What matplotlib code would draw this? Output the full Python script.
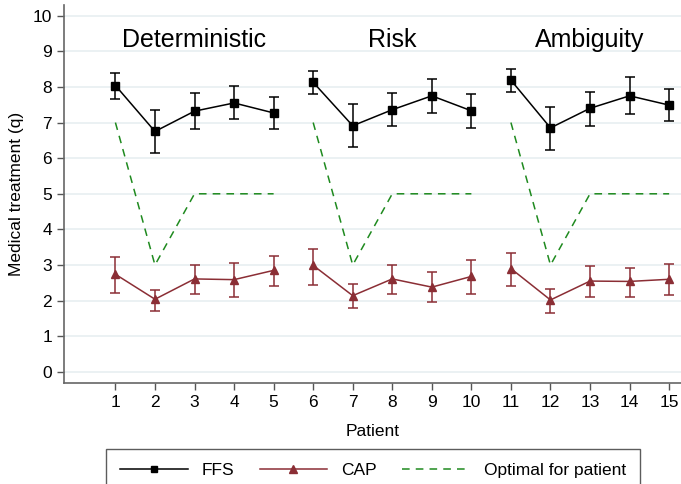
import numpy as np
import matplotlib
matplotlib.use('Agg')
import matplotlib.pyplot as plt
from matplotlib.lines import Line2D

plt.rcParams['font.family'] = ['Liberation Sans', 'DejaVu Sans']

patients = list(range(1, 16))
groups = ['Deterministic', 'Risk', 'Ambiguity']

ffs_mean = [8.04, 6.75, 7.32, 7.55, 7.27,
            8.13, 6.91, 7.36, 7.75, 7.33,
            8.19, 6.85, 7.40, 7.75, 7.49]
ffs_hi = [8.38, 7.35, 7.82, 8.04, 7.73,
          8.46, 7.51, 7.84, 8.22, 7.81,
          8.51, 7.45, 7.87, 8.27, 7.95]
ffs_lo = [7.67, 6.15, 6.83, 7.09, 6.81,
          7.79, 6.31, 6.89, 7.26, 6.86,
          7.87, 6.24, 6.91, 7.25, 7.03]

cap_mean = [2.74, 2.04, 2.61, 2.59, 2.85,
            2.99, 2.14, 2.61, 2.38, 2.68,
            2.90, 2.02, 2.55, 2.54, 2.60]
cap_hi = [3.22, 2.30, 3.01, 3.07, 3.26,
          3.46, 2.47, 3.00, 2.80, 3.14,
          3.35, 2.32, 2.98, 2.93, 3.03]
cap_lo = [2.21, 1.72, 2.18, 2.10, 2.42,
          2.45, 1.79, 2.19, 1.95, 2.18,
          2.40, 1.65, 2.09, 2.11, 2.17]

optimal = [7, 3, 5, 5, 5,
           7, 3, 5, 5, 5,
           7, 3, 5, 5, 5]

ffs_color = 'black'
cap_color = '#8b2e35'
opt_color = '#1f8a1f'
opt_dash = (0, (5, 4))

fig = plt.figure(figsize=(6.81, 4.84), dpi=100)
ax = fig.add_axes([64 / 681, 1 - 383.3 / 484, 1 - 64 / 681, (383.3 - 5) / 484])

x = np.array(patients)
ffs_mean = np.array(ffs_mean)
cap_mean = np.array(cap_mean)

for g in range(3):
    s = slice(g * 5, g * 5 + 5)
    xs = x[s]
    ax.errorbar(xs, ffs_mean[s],
                yerr=[ffs_mean[s] - np.array(ffs_lo[s]), np.array(ffs_hi[s]) - ffs_mean[s]],
                color=ffs_color, marker='s', markersize=5.5, lw=1.1, elinewidth=1.1,
                capsize=3.5, capthick=1.1, zorder=3)
    ax.errorbar(xs, cap_mean[s],
                yerr=[cap_mean[s] - np.array(cap_lo[s]), np.array(cap_hi[s]) - cap_mean[s]],
                color=cap_color, marker='^', markersize=6, lw=1.1, elinewidth=1.1,
                capsize=3.5, capthick=1.1, zorder=3)
    ax.plot(xs, optimal[s], color=opt_color, ls=opt_dash, lw=1.1, zorder=2)
    ax.text(xs[2], 9.33, groups[g], ha='center', va='center', fontsize=18)

ax.set_xlim(-0.3, 15.3)
ax.set_ylim(-0.32, 10.3)
ax.set_xticks(patients)
ax.set_yticks(range(0, 11))
ax.tick_params(labelsize=12.5, color='#555555', length=5, width=1)
ax.grid(axis='y', color='#e8eff1', lw=1.2, zorder=0)
ax.set_axisbelow(True)
for side in ['top', 'right']:
    ax.spines[side].set_visible(False)
for side in ['left', 'bottom']:
    ax.spines[side].set_color('#666666')
    ax.spines[side].set_linewidth(1.2)

ax.set_xlabel('Patient', fontsize=12.5, labelpad=10)
ax.set_ylabel('Medical treatment (q)', fontsize=12.5, labelpad=6)

handles = [Line2D([], [], color=ffs_color, marker='s', markersize=5, lw=1.1),
           Line2D([], [], color=cap_color, marker='^', markersize=5.5, lw=1.1),
           Line2D([], [], color=opt_color, ls=opt_dash, lw=1.1)]
labels = ['FFS', 'CAP', 'Optimal for patient']
leg = fig.legend(handles, labels, loc='lower center', bbox_to_anchor=(373 / 681, -0.034),
                 ncol=3, fontsize=12.5, handlelength=3.9, handletextpad=0.8,
                 frameon=True, fancybox=False, edgecolor='#333333',
                 borderpad=0.8, columnspacing=1.45)
leg.get_frame().set_linewidth(1.0)

fig.savefig('out.png', dpi=100)
